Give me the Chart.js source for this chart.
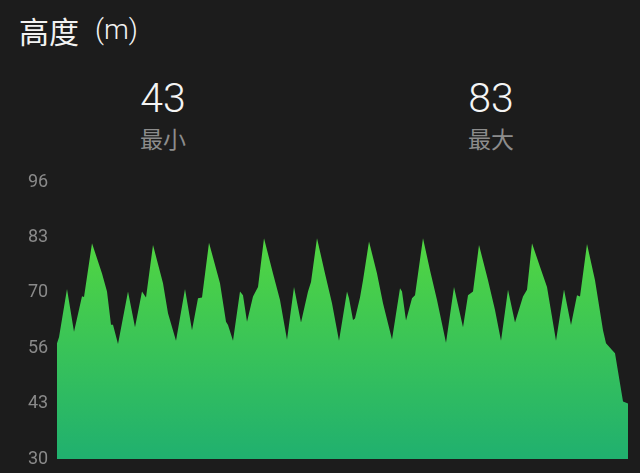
<!DOCTYPE html>
<html>
<head>
<meta charset="utf-8">
<script src="https://cdn.jsdelivr.net/npm/chart.js@4/dist/chart.umd.min.js"></script>
<style>
    html, body {
        margin: 0;
        padding: 0;
        width: 640px;
        height: 473px;
        background: #1c1c1c;
        overflow: hidden;
        font-family: Roboto, "Noto Sans CJK SC", sans-serif;
    }
    .title {
        position: absolute;
        left: 19px;
        top: 15px;
        font-size: 30px;
        line-height: 30px;
        color: #f2f2f2;
        font-family: "Noto Sans CJK SC", sans-serif;
        white-space: nowrap;
    }
    .title .unit {
        position: absolute;
        left: 76px;
        top: 1px;
        font-size: 28px;
        line-height: 28px;
        font-family: Roboto, sans-serif;
        font-weight: 300;
    }
    .stat {
        position: absolute;
        width: 200px;
        text-align: center;
    }
    .stat .value {
        position: absolute;
        left: 0;
        width: 200px;
        top: 78px;
        font-size: 41px;
        line-height: 41px;
        font-weight: 300;
        color: #f4f4f4;
    }
    .stat .label {
        position: absolute;
        left: 0;
        width: 200px;
        top: 127px;
        font-size: 23px;
        line-height: 23px;
        color: #8c8c8c;
        font-family: "Noto Sans CJK SC", sans-serif;
    }
    #chartWrap {
        position: absolute;
        left: 0;
        top: 171px;
        width: 640px;
        height: 302px;
    }
</style>
</head>
<body>
<div class="title">高度<span class="unit">(m)</span></div>
<div class="stat" style="left:63px;top:0">
    <div class="value">43</div>
    <div class="label">最小</div>
</div>
<div class="stat" style="left:391px;top:0">
    <div class="value">83</div>
    <div class="label">最大</div>
</div>
<div id="chartWrap"><canvas id="altChart"></canvas></div>

<script>
// Elevation profile (distance in sample units, altitude in metres)
const distance = [
    0, 2, 10, 17, 25, 27, 35, 45, 50, 54, 56, 61, 71, 78, 85, 89, 96,
    106, 111, 119, 128, 135, 141, 145, 152, 163, 169, 171, 176, 183, 186,
    190, 196, 201, 207, 216, 223, 230, 237, 244, 251, 254, 260, 268, 275,
    282, 290, 292, 296, 298, 303, 306, 312, 320, 326, 335, 343, 345, 349,
    355, 358, 366, 373, 380, 389, 397, 406, 411, 416, 422, 431, 438, 444,
    451, 458, 466, 470, 475, 483, 490, 499, 507, 514, 520, 523, 530, 538,
    546, 549, 555, 558, 566, 571
];
const altitude = [
    57.6, 59.0, 70.5, 60.3, 68.8, 68.6, 81.4, 74.2, 69.9, 62.0, 62.0, 57.4, 69.9, 61.4, 69.9, 68.5, 81.0,
    71.9, 64.7, 58.2, 70.5, 60.7, 68.3, 68.5, 81.5, 71.9, 62.7, 61.9, 58.2, 69.9, 69.0,
    62.7, 68.7, 71.0, 82.6, 74.2, 67.9, 58.4, 71.0, 62.5, 69.9, 72.2, 82.6, 74.2, 67.1,
    58.2, 69.9, 68.3, 63.1, 63.5, 68.5, 72.6, 81.8, 74.2, 67.1, 58.5, 70.7, 69.9, 63.0,
    68.3, 69.0, 82.6, 75.0, 67.9, 57.7, 71.0, 61.4, 69.0, 69.9, 81.0, 72.6, 65.5, 58.2,
    70.3, 62.5, 68.7, 70.3, 81.4, 75.8, 71.0, 58.2, 70.4, 61.9, 69.0, 68.7, 81.2, 72.6,
    60.7, 57.6, 56.0, 55.2, 43.7, 43.2
];
const yMin = 30;
const yMax = 96;
const yTickCount = 6;

const ctx = document.getElementById('altChart').getContext('2d');

new Chart(ctx, {
    type: 'line',
    data: {
        datasets: [{
            data: distance.map((d, i) => ({ x: d, y: altitude[i] })),
            fill: 'start',
            borderWidth: 0,
            pointRadius: 0,
            tension: 0,
            backgroundColor: (context) => {
                const area = context.chart.chartArea;
                if (!area) return '#3cc85a';
                const g = context.chart.ctx.createLinearGradient(0, area.top, 0, area.bottom);
                g.addColorStop(0, '#58dc3e');
                g.addColorStop(0.25, '#4fd444');
                g.addColorStop(1, '#20b06f');
                return g;
            }
        }]
    },
    options: {
        responsive: true,
        maintainAspectRatio: false,
        animation: false,
        layout: {
            padding: { left: 28, right: 12, top: 11, bottom: 14 }
        },
        plugins: {
            legend: { display: false },
            tooltip: { enabled: false }
        },
        scales: {
            x: {
                type: 'linear',
                display: false,
                min: distance[0],
                max: distance[distance.length - 1]
            },
            y: {
                min: yMin,
                max: yMax,
                grid: { display: false },
                border: { display: false },
                afterFit: (axis) => { axis.width = 29; },
                ticks: {
                    count: yTickCount,
                    crossAlign: 'far',
                    padding: 0,
                    color: '#8a8a8a',
                    font: { family: 'Roboto', size: 18 },
                    callback: (value) => Math.round(value)
                }
            }
        }
    }
});
</script>
</body>
</html>
